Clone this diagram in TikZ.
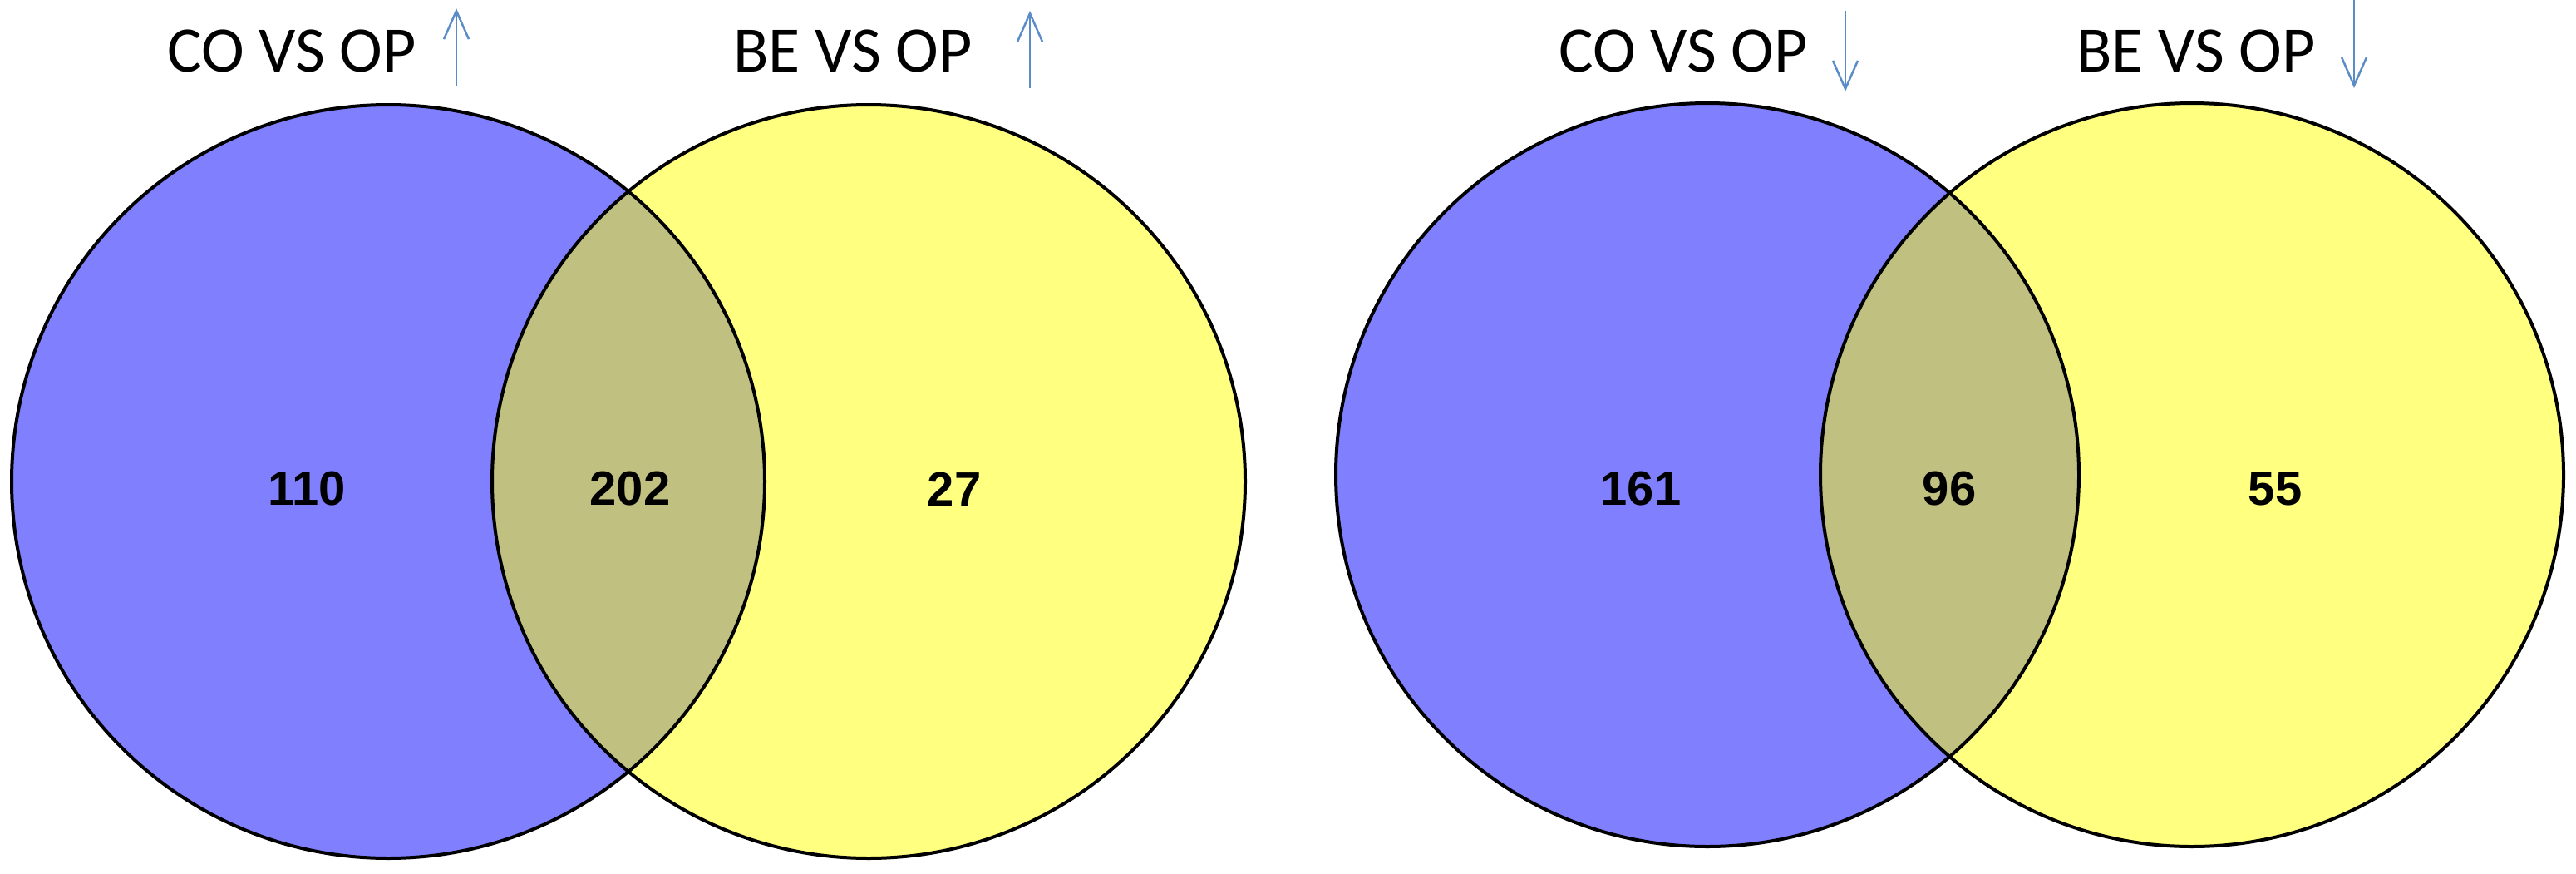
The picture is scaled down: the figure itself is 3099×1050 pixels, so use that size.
\documentclass[tikz,border=0pt]{standalone}
\usepackage{fontspec}
\setmainfont{Carlito}
\newfontfamily\numfont{Liberation Sans}
\usetikzlibrary{arrows.meta}
\definecolor{vblue}{RGB}{128,128,255}
\definecolor{vyellow}{RGB}{255,255,128}
\definecolor{voverlap}{RGB}{192,192,128}
\definecolor{varrow}{RGB}{91,140,200}
\tikzset{
  outline/.style={draw=black,line width=4pt},
  setlabel/.style={font=\fontsize{78}{90}\selectfont,anchor=base,inner sep=0pt},
  count/.style={font=\numfont\bfseries\fontsize{58}{70}\selectfont,inner sep=0pt},
  trend/.style={draw=varrow,line width=2.5pt,-{Straight Barb[length=34pt,width=30pt,line width=2.5pt]}}
}
\begin{document}
\begin{tikzpicture}[x=1pt,y=-1pt]
\useasboundingbox (0,0) rectangle (3099,1050);
% ---------- left diagram ----------
\coordinate (A1) at (467,579);
\coordinate (B1) at (1045,579);
\fill[vblue] (A1) circle[radius=453];
\fill[vyellow] (B1) circle[radius=453];
\begin{scope}
  \clip (A1) circle[radius=453];
  \fill[voverlap] (B1) circle[radius=453];
\end{scope}
\draw[outline] (A1) circle[radius=453];
\draw[outline] (B1) circle[radius=453];
\node[count] (n110) at (369,588) {110};
\node[count] (n202) at (758,588) {202};
\node[count] (n27) at (1148,588) {27};
\node[setlabel] (l1) at (351,86) {CO VS OP};
\node[setlabel] (l2) at (1026,86) {BE VS OP};
\coordinate (u1s) at (549,103);
\coordinate (u1e) at (549,10);
\coordinate (u2s) at (1239,106);
\coordinate (u2e) at (1239,13);
\draw[trend] (u1s) -- (u1e);
\draw[trend] (u2s) -- (u2e);
% ---------- right diagram ----------
\coordinate (A2) at (2054,571);
\coordinate (B2) at (2637,571);
\fill[vblue] (A2) circle[radius=447];
\fill[vyellow] (B2) circle[radius=447];
\begin{scope}
  \clip (A2) circle[radius=447];
  \fill[voverlap] (B2) circle[radius=447];
\end{scope}
\draw[outline] (A2) circle[radius=447];
\draw[outline] (B2) circle[radius=447];
\node[count] (n161) at (1974,588) {161};
\node[count] (n96) at (2345,588) {96};
\node[count] (n55) at (2737,588) {55};
\node[setlabel] (l3) at (2025,86) {CO VS OP};
\node[setlabel] (l4) at (2642,86) {BE VS OP};
\coordinate (d1s) at (2220,13);
\coordinate (d1e) at (2220,110);
\coordinate (d2s) at (2832,0);
\coordinate (d2e) at (2832,106);
\draw[trend] (d1s) -- (d1e);
\draw[trend] (d2s) -- (d2e);
\end{tikzpicture}
\end{document}
